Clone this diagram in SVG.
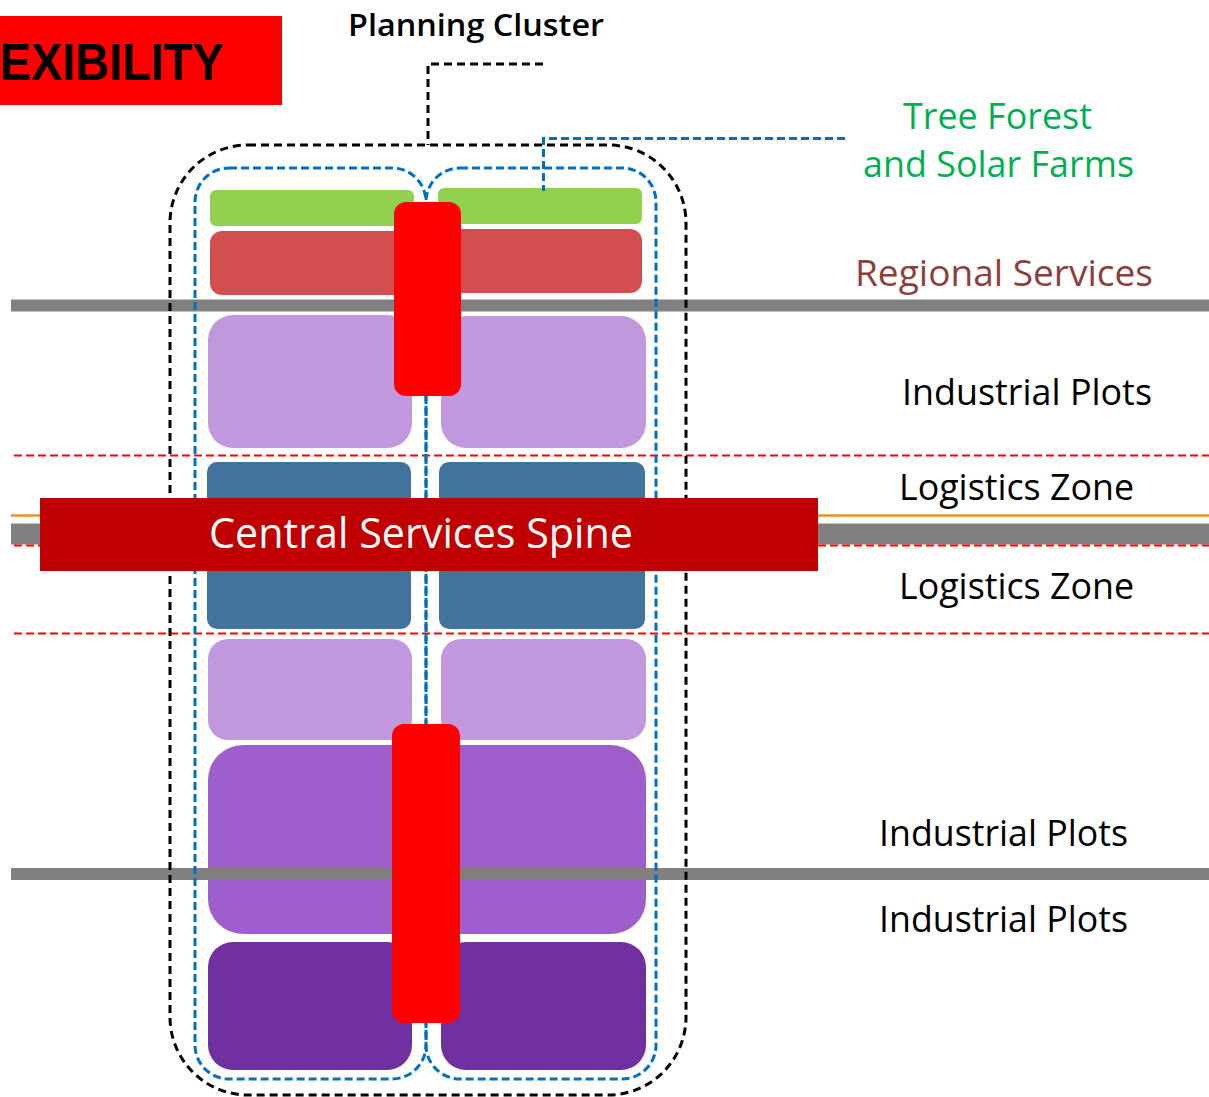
<svg xmlns="http://www.w3.org/2000/svg" width="1209" height="1097" viewBox="0 0 1209 1097">
<style>
.lbl{font-family:"Open Sans","Liberation Sans",Arial,sans-serif;font-size:36px;fill:#000}
.green{fill:#92D050}
.regional{fill:#D34F4F}
.lpurple{fill:#C198DE}
.logis{fill:#42739C}
.mpurple{fill:#9E5FCD}
.dpurple{fill:#7030A0}
.bar{fill:#FF0000}
.road{fill:#808080}
.reddash{stroke:#FF0000;stroke-width:2;stroke-dasharray:8 4;fill:none}
.blackdash{stroke:#000;stroke-width:3;stroke-dasharray:8 5;fill:none}
.bluedash{stroke:#0070C0;stroke-width:3;stroke-dasharray:8 4;fill:none}
</style>
<rect width="1209" height="1097" fill="#fff"/>

<g id="plots">
  <rect class="green" x="210" y="190" width="204" height="36" rx="6"/>
  <rect class="green" x="438" y="188" width="204" height="36" rx="6"/>
  <rect class="regional" x="210" y="231" width="204" height="64" rx="12"/>
  <rect class="regional" x="438" y="229" width="204" height="64" rx="12"/>
  <rect class="lpurple" x="208" y="315" width="204" height="133" rx="25"/>
  <rect class="lpurple" x="441" y="316" width="205" height="132" rx="25"/>
  <rect class="logis" x="207" y="462" width="204" height="167" rx="10"/>
  <rect class="logis" x="439" y="462" width="206" height="167" rx="10"/>
  <rect class="lpurple" x="208" y="639" width="204" height="101" rx="20"/>
  <rect class="lpurple" x="441" y="639" width="205" height="101" rx="20"/>
  <rect class="mpurple" x="208" y="745" width="230" height="189" rx="35"/>
  <rect class="mpurple" x="420" y="745" width="226" height="189" rx="35"/>
  <rect class="dpurple" x="208" y="942" width="204" height="128" rx="25"/>
  <rect class="dpurple" x="441" y="942" width="205" height="128" rx="25"/>
</g>

<g id="lines">
  <rect class="road" x="11" y="299.5" width="1198" height="12"/>
  <rect class="road" x="11" y="523.5" width="1198" height="21"/>
  <rect class="road" x="11" y="868" width="1198" height="12"/>
  <line x1="11" y1="515.5" x2="1209" y2="515.5" stroke="#E8912C" stroke-width="2.5"/>
  <line class="reddash" x1="14" y1="455.5" x2="1209" y2="455.5"/>
  <line class="reddash" x1="14" y1="545.5" x2="1209" y2="545.5"/>
  <line class="reddash" x1="14" y1="633.5" x2="1209" y2="633.5"/>
</g>

<g id="planning-cluster">
  <rect class="blackdash" x="170" y="145" width="516" height="950" rx="78"/>
</g>
<g id="cluster-left">
  <rect class="bluedash" x="195" y="168" width="231" height="911" rx="34"/>
</g>
<g id="cluster-right">
  <rect class="bluedash" x="426" y="168" width="230" height="911" rx="34"/>
</g>

<g id="connectors">
  <polyline class="blackdash" points="543,64 428,64 428,145"/>
  <polyline class="bluedash" points="845,138.5 543.5,138.5 543.5,191"/>
</g>

<g id="service-bars">
  <rect class="bar" x="394" y="202" width="67" height="194" rx="12"/>
  <rect class="bar" x="392" y="724" width="68" height="299" rx="12"/>
</g>

<g id="central-spine">
  <rect x="40" y="498" width="778" height="73" fill="#C00000"/>
  <text x="209" y="548" font-family="'Open Sans','Liberation Sans',Arial,sans-serif" font-size="42" fill="#fff" textLength="424" lengthAdjust="spacingAndGlyphs">Central Services Spine</text>
</g>

<g id="title">
  <rect x="0" y="16" width="282" height="89" fill="#FF0000"/>
  <text x="0" y="80" font-family="'Liberation Sans',Arial,sans-serif" font-weight="bold" font-size="51" fill="#000" textLength="224" lengthAdjust="spacingAndGlyphs">EXIBILITY</text>
</g>

<g id="planning-label">
  <text x="348" y="36" font-family="'Open Sans','Liberation Sans',Arial,sans-serif" font-weight="600" font-size="31" fill="#000" textLength="256" lengthAdjust="spacingAndGlyphs">Planning Cluster</text>
</g>

<g id="labels">
  <text class="lbl" x="903" y="129" style="fill:#00B050" textLength="189" lengthAdjust="spacingAndGlyphs">Tree Forest</text>
  <text class="lbl" x="863" y="177" style="fill:#00B050" textLength="271" lengthAdjust="spacingAndGlyphs">and Solar Farms</text>
  <text class="lbl" x="855" y="286" style="fill:#8F3E3E" textLength="298" lengthAdjust="spacingAndGlyphs">Regional Services</text>
  <text class="lbl" x="902" y="405" textLength="250" lengthAdjust="spacingAndGlyphs">Industrial Plots</text>
  <text class="lbl" x="899" y="500" textLength="235" lengthAdjust="spacingAndGlyphs">Logistics Zone</text>
  <text class="lbl" x="899" y="599" textLength="235" lengthAdjust="spacingAndGlyphs">Logistics Zone</text>
  <text class="lbl" x="879" y="846" textLength="249" lengthAdjust="spacingAndGlyphs">Industrial Plots</text>
  <text class="lbl" x="879" y="932" textLength="249" lengthAdjust="spacingAndGlyphs">Industrial Plots</text>
</g>
</svg>
